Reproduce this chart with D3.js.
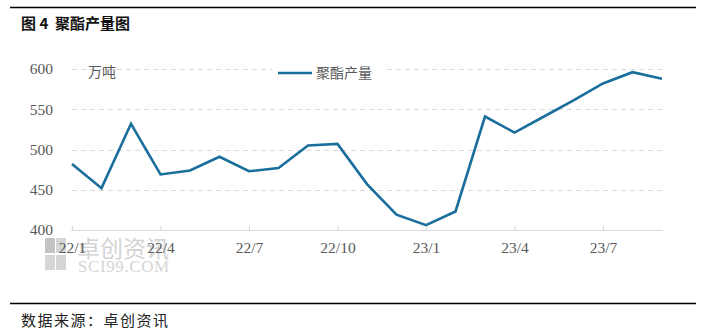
<!DOCTYPE html>
<html><head><meta charset="utf-8">
<script src="https://cdn.jsdelivr.net/npm/d3@7"></script>
<style>body{margin:0;background:#fff}svg{display:block}</style>
</head><body>
<svg id="c" width="702" height="331"></svg>
<script>
const months = ["22/1","22/2","22/3","22/4","22/5","22/6","22/7","22/8","22/9","22/10","22/11","22/12","23/1","23/2","23/3","23/4","23/5","23/6","23/7","23/8","23/9"];
const output = [482,452,532,469,474,491,473,477,505,507,457,419,406,423,541,521,541,561,582,596,588];
const yTicks = [400,450,500,550,600];
const xTickLabels = ["22/1","22/4","22/7","22/10","23/1","23/4","23/7"];
const seriesName = "聚酯产量";
const unit = "万吨";
const title = "图 4  聚酯产量图";
const source = "数据来源：卓创资讯";

const svg = d3.select("#c");
const serif = "'Liberation Serif', 'DejaVu Serif', serif";
const cjk = "'Noto Sans CJK SC', sans-serif";

// rules
svg.append("line").attr("x1",10).attr("x2",696).attr("y1",7.5).attr("y2",7.5).attr("stroke","#000").attr("stroke-width",1.3);
svg.append("line").attr("x1",10).attr("x2",696).attr("y1",303.5).attr("y2",303.5).attr("stroke","#000").attr("stroke-width",1.3);
svg.append("text").attr("x",21).attr("y",29).style("font-family",cjk).style("font-weight","bold").style("font-size","15px").attr("fill","#111").style("white-space","pre").text(title);
svg.append("text").attr("x",21).attr("y",326).style("font-family",cjk).style("font-size","15px").attr("fill","#222").attr("letter-spacing",1.5).text(source);

const x = d3.scalePoint().domain(months).range([72,662]);
const y = d3.scaleLinear().domain([400,600]).range([230,69]);

// grid
svg.append("g").selectAll("line").data(yTicks.filter(d=>d>400)).join("line")
  .attr("x1",72).attr("x2",663).attr("y1",d=>Math.round(y(d))+0.5).attr("y2",d=>Math.round(y(d))+0.5)
  .attr("stroke","#d9d9d9").attr("stroke-dasharray","5,4").attr("stroke-width",1);

// watermark
const wm = svg.append("g");
[[45,238],[56,238],[45,255],[56,255]].forEach((p,i)=>{
  wm.append("rect").attr("x",p[0]).attr("y",p[1]).attr("width",10).attr("height",15).attr("fill",i==0?"#c4c4c4":"#d6d6d6");
});
wm.append("text").attr("x",77).attr("y",257).style("font-family",cjk).style("font-size","23px").attr("fill","#d4d4d4").text("卓创资讯");
wm.append("text").attr("x",78).attr("y",272).style("font-family",serif).style("font-size","17px").attr("letter-spacing",0.6).attr("fill","#d4d4d4").text("SCI99.COM");

// y labels
const yAxis = d3.axisLeft(y).tickValues(yTicks).tickSize(0).tickPadding(0);
const gy = svg.append("g").attr("transform","translate(53,0)").call(yAxis);
gy.attr("font-family",null);
gy.select(".domain").remove();
gy.selectAll("text").style("font-family",serif).style("font-size","15.5px").attr("fill","#595959");

// x axis
const xAxis = d3.axisBottom(x).tickValues(xTickLabels).tickSize(5).tickPadding(4);
const gx = svg.append("g").attr("transform","translate(0,230.5)").call(xAxis);
gx.attr("font-family",null);
gx.select(".domain").attr("d","M71,0H663").attr("stroke","#d9d9d9");
gx.selectAll(".tick line").attr("stroke","#d9d9d9").attr("y2",-5);
gx.selectAll("text").style("font-family",serif).style("font-size","15.5px").attr("fill","#595959").attr("dy","0.9em");

// line
svg.append("path").datum(output)
  .attr("d",d3.line().x((d,i)=>x(months[i])).y(d=>y(d)))
  .attr("fill","none").attr("stroke","#1a6e9c").attr("stroke-width",2.6).attr("stroke-linejoin","miter");

// unit
svg.append("text").attr("x",88).attr("y",77).style("font-family",cjk).style("font-size","14px").attr("fill","#595959").text(unit);

// legend
svg.append("rect").attr("x",272).attr("y",64).attr("width",112).attr("height",16).attr("fill","#fff");
svg.append("line").attr("x1",278).attr("x2",312).attr("y1",73).attr("y2",73).attr("stroke","#1a6e9c").attr("stroke-width",2.6);
svg.append("text").attr("x",316).attr("y",78).style("font-family",cjk).style("font-size","14px").attr("fill","#595959").text(seriesName);
</script>
</body></html>
